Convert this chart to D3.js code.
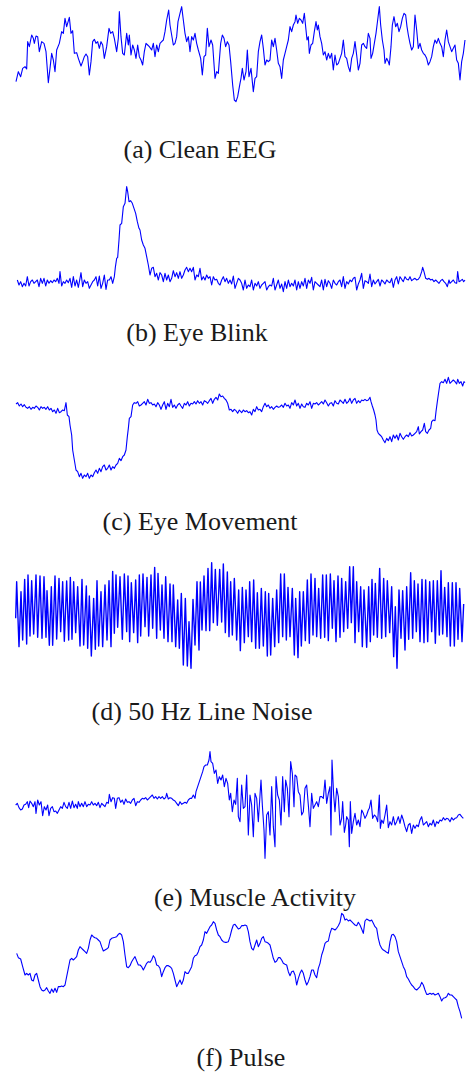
<!DOCTYPE html>
<html><head><meta charset="utf-8">
<script src="https://cdn.jsdelivr.net/npm/d3@7"></script>
<style>html,body{margin:0;padding:0;background:#fff}</style>
</head><body>
<script>
// Each series: [time (sample units), amplitude (arbitrary units, up = positive)]
const cleanEEG = [[18,-245],[25,-215],[32,-230],[38,-205],[45,-200],[50,-207],[53,-125],[58,-140],[65,-105],[70,-115],[73,-130],[78,-108],[83,-110],[88,-155],[95,-125],[102,-130],[108,-155],[115,-248],[120,-205],[125,-160],[130,-180],[135,-215],[140,-150],[148,-130],[155,-95],[160,-100],[165,-55],[170,-80],[178,-52],[183,-100],[188,-92],[193,-160],[200,-158],[205,-175],[213,-198],[218,-185],[223,-170],[228,-162],[233,-170],[238,-225],[243,-185],[248,-125],[253,-118],[258,-130],[263,-125],[268,-145],[273,-125],[278,-135],[283,-175],[290,-140],[297,-85],[302,-100],[308,-95],[313,-115],[320,-155],[325,-115],[328,-35],[333,-110],[338,-160],[343,-165],[350,-100],[355,-135],[358,-105],[363,-165],[368,-135],[373,-150],[378,-175],[383,-135],[388,-170],[393,-180],[398,-195],[403,-155],[408,-130],[413,-135],[418,-140],[425,-150],[430,-130],[435,-170],[440,-135],[445,-155],[450,-130],[455,-125],[460,-120],[465,-95],[470,-60],[476,-30],[480,-75],[485,-105],[490,-135],[495,-130],[500,-110],[504,-65],[510,-40],[515,-20],[520,-60],[525,-100],[530,-125],[535,-110],[540,-155],[545,-110],[550,-120],[555,-100],[560,-130],[565,-150],[572,-175],[577,-225],[582,-170],[587,-165],[592,-85],[597,-140],[603,-120],[608,-135],[615,-235],[620,-215],[625,-220],[632,-130],[637,-105],[642,-115],[647,-140],[652,-125],[657,-135],[662,-185],[668,-255],[673,-300],[678,-305],[683,-290],[690,-250],
[693,-235],[697,-205],[702,-240],[708,-215],[712,-150],[717,-230],[723,-205],[730,-275],[735,-235],[740,-230],[745,-155],[750,-125],[755,-105],[760,-145],[765,-195],[770,-180],[775,-185],[780,-180],[785,-120],[790,-140],[795,-115],[800,-150],[805,-190],[810,-200],[815,-235],[820,-180],[825,-160],[830,-140],[835,-120],[840,-80],[845,-95],[850,-75],[855,-65],[858,-45],[863,-70],[868,-55],[873,-60],[878,-70],[883,-40],[888,-90],[891,-120],[895,-110],[898,-160],[903,-135],[908,-130],[913,-95],[918,-65],[922,-90],[925,-75],[930,-110],[935,-130],[940,-165],[945,-155],[950,-180],[955,-160],[960,-175],[965,-160],[970,-210],[975,-165],[980,-195],[985,-190],[990,-175],[995,-160],[1000,-120],[1005,-170],[1010,-175],[1015,-200],[1020,-215],[1025,-175],[1030,-160],[1035,-125],[1040,-165],[1045,-210],[1050,-190],[1055,-135],[1060,-130],[1065,-140],[1070,-145],[1075,-100],[1080,-115],[1083,-175],[1088,-160],[1093,-130],[1098,-100],[1103,-60],[1108,-20],[1112,-75],[1117,-120],[1122,-150],[1125,-190],[1130,-175],[1135,-185],[1138,-195],[1143,-140],[1147,-75],[1152,-50],[1157,-80],[1162,-70],[1167,-95],[1172,-80],[1177,-55],[1182,-40],[1187,-45],[1191,-80],[1195,-105],[1200,-130],[1205,-150],[1210,-140],[1215,-45],[1220,-90],[1225,-145],[1230,-130],[1235,-150],[1240,-160],[1245,-165],[1250,-175],[1255,-195],[1260,-185],[1265,-170],[1270,-140],[1275,-120],[1280,-130],[1285,-115],[1290,-130],[1295,-140],[1300,-170],[1305,-120],[1310,-90],[1315,-125],[1320,-140],[1325,-155],[1330,-145],[1335,-135],[1340,-180],[1345,-190],[1350,-240],[1355,-185],[1360,-160],[1365,-120]];

const eyeBlink = [[22,-300],[27,-315],[32,-305],[37,-320],[42,-310],[47,-318],[52,-290],[57,-318],[62,-305],[67,-300],[72,-310],[77,-305],[82,-300],[87,-320],[92,-295],[97,-310],[102,-295],[107,-318],[112,-300],[117,-310],[122,-302],[127,-308],[132,-300],[137,-305],[142,-295],[147,-310],[150,-275],[155,-318],[160,-305],[165,-310],[170,-300],[175,-308],[180,-295],[185,-322],[190,-290],[195,-318],[200,-300],[205,-322],[210,-295],[213,-278],[218,-320],[223,-300],[228,-310],[233,-305],[238,-325],[243,-315],[248,-305],[253,-300],[258,-290],[263,-318],[268,-288],[273,-325],[278,-310],[283,-285],[288,-328],[293,-300],[298,-300],[303,-290],[308,-310],[313,-290],[316,-262],[320,-235],[323,-232],[327,-180],[330,-135],[335,-130],[340,-80],[345,-70],[350,-20],[353,-35],[357,-65],[362,-62],[367,-70],[372,-85],[377,-100],[382,-125],[387,-145],[390,-150],[395,-180],[400,-195],[405,-205],[410,-230],[415,-255],[420,-285],[425,-265],[430,-262],[435,-290],[440,-280],[445,-300],[450,-278],[455,-285],[460,-305],[465,-280],[470,-300],[475,-285],[480,-305],[485,-295],[490,-272],[495,-290],[500,-278],[505,-295],[510,-275],[515,-295],[520,-285],[525,-270],[530,-262],[535,-275],[540,-265],[545,-275],[550,-262],[555,-300],[560,-285],[565,-290],[570,-265],[575,-300],[580,-290],[585,-300],[590,-285],[595,-295],[600,-290],[605,-315],[610,-290],[615,-300],[620,-298],[625,-310],[630,-315],[635,-300],[640,-290],[645,-305],[650,-295],[655,-310],[660,-300],[665,-312],[670,-288],[675,-325],[680,-310],[685,-295],[690,-300],
[695,-310],[700,-330],[705,-300],[710,-325],[715,-315],[720,-320],[725,-300],[730,-330],[735,-310],[740,-318],[745,-305],[750,-325],[755,-315],[760,-310],[765,-305],[770,-330],[775,-320],[780,-315],[785,-318],[790,-295],[795,-330],[800,-315],[805,-300],[810,-325],[815,-312],[820,-335],[825,-305],[830,-325],[835,-300],[840,-320],[845,-310],[850,-318],[855,-300],[860,-330],[865,-305],[870,-325],[875,-305],[880,-318],[885,-295],[890,-325],[895,-300],[900,-310],[905,-292],[910,-330],[915,-305],[920,-310],[925,-315],[930,-320],[935,-300],[940,-330],[945,-298],[950,-320],[955,-302],[960,-310],[965,-325],[970,-300],[975,-310],[980,-315],[985,-305],[990,-300],[995,-320],[1000,-290],[1005,-325],[1010,-305],[1015,-312],[1020,-300],[1025,-305],[1030,-295],[1035,-292],[1040,-330],[1045,-312],[1050,-300],[1055,-280],[1060,-325],[1065,-302],[1070,-305],[1075,-310],[1080,-282],[1085,-320],[1090,-300],[1095,-312],[1100,-305],[1105,-298],[1110,-318],[1115,-300],[1120,-305],[1125,-312],[1130,-300],[1135,-305],[1140,-308],[1145,-295],[1150,-322],[1155,-300],[1160,-290],[1165,-312],[1170,-290],[1175,-298],[1180,-305],[1185,-290],[1190,-298],[1195,-300],[1200,-290],[1205,-302],[1210,-298],[1215,-295],[1220,-300],[1225,-298],[1230,-290],[1235,-275],[1238,-262],[1242,-275],[1247,-295],[1252,-298],[1257,-295],[1262,-300],[1267,-298],[1272,-305],[1277,-300],[1282,-305],[1287,-310],[1292,-302],[1297,-298],[1302,-305],[1307,-310],[1312,-320],[1317,-300],[1320,-310],[1325,-305],[1330,-300],[1335,-308],[1340,-310],[1343,-275],[1347,-305],[1352,-302],[1357,-298],[1361,-305],[1365,-300]];

const eyeMovement = [[18,-102],[23,-98],[28,-108],[33,-102],[38,-110],[43,-104],[48,-112],[53,-115],[58,-110],[63,-118],[68,-112],[73,-115],[78,-108],[83,-112],[88,-120],[93,-110],[98,-115],[103,-112],[108,-118],[113,-110],[118,-120],[123,-115],[128,-125],[133,-120],[138,-130],[143,-115],[148,-128],[153,-125],[158,-120],[163,-122],[168,-98],[172,-135],[177,-140],[180,-165],[185,-195],[188,-240],[193,-270],[198,-300],[203,-305],[208,-320],[213,-310],[218,-325],[223,-315],[228,-320],[233,-310],[238,-325],[243,-315],[248,-320],[253,-308],[258,-300],[263,-310],[268,-295],[273,-305],[278,-290],[283,-285],[288,-300],[293,-295],[298,-285],[303,-300],[308,-290],[313,-295],[318,-285],[323,-280],[328,-265],[333,-272],[338,-260],[343,-255],[348,-240],[352,-200],[355,-175],[358,-145],[363,-140],[368,-105],[373,-98],[378,-100],[383,-95],[388,-108],[393,-105],[398,-100],[403,-95],[408,-105],[413,-88],[418,-100],[423,-98],[428,-105],[433,-102],[438,-110],[443,-98],[448,-105],[453,-118],[458,-105],[463,-95],[468,-118],[473,-100],[478,-110],[483,-88],[488,-112],[493,-105],[498,-115],[503,-105],[508,-100],[513,-108],[518,-115],[523,-100],[528,-105],[533,-95],[538,-108],[543,-100],[548,-102],[553,-95],[558,-102],[563,-92],[568,-100],[573,-95],[578,-105],[583,-92],[588,-95],[593,-100],[598,-92],[603,-85],[608,-100],[613,-88],[618,-82],[623,-90],[628,-72],[633,-80],[638,-78],[643,-85],[648,-90],[653,-100],[658,-120],[663,-118],[668,-125],[673,-118],[678,-122],[683,-130],[688,-120],
[695,-128],[700,-120],[705,-125],[710,-122],[715,-128],[720,-125],[725,-135],[730,-118],[735,-125],[740,-110],[745,-120],[750,-118],[755,-125],[760,-110],[765,-100],[770,-110],[775,-105],[780,-115],[785,-110],[790,-118],[795,-112],[800,-108],[805,-112],[810,-110],[815,-105],[820,-112],[825,-100],[830,-108],[835,-105],[840,-115],[845,-98],[850,-105],[855,-90],[860,-108],[865,-100],[870,-115],[875,-102],[880,-110],[885,-112],[890,-100],[895,-105],[900,-95],[905,-115],[910,-100],[915,-102],[920,-98],[925,-105],[930,-100],[935,-95],[940,-102],[945,-90],[950,-98],[955,-108],[960,-100],[965,-98],[970,-108],[975,-92],[980,-100],[985,-102],[990,-90],[995,-95],[1000,-100],[1005,-88],[1010,-100],[1015,-95],[1020,-85],[1025,-100],[1030,-90],[1035,-85],[1040,-100],[1045,-92],[1050,-98],[1055,-90],[1060,-92],[1065,-88],[1070,-92],[1075,-90],[1080,-82],[1083,-95],[1087,-108],[1091,-120],[1095,-135],[1098,-150],[1101,-180],[1105,-190],[1110,-195],[1115,-200],[1120,-210],[1125,-218],[1130,-205],[1135,-212],[1140,-200],[1145,-215],[1150,-195],[1155,-205],[1160,-195],[1165,-210],[1170,-190],[1175,-200],[1180,-208],[1185,-200],[1190,-195],[1195,-200],[1200,-188],[1205,-198],[1210,-195],[1215,-190],[1220,-185],[1225,-170],[1228,-192],[1233,-185],[1238,-180],[1243,-160],[1247,-185],[1252,-190],[1257,-180],[1262,-175],[1265,-155],[1270,-150],[1275,-152],[1278,-125],[1282,-95],[1287,-60],[1290,-40],[1295,-35],[1300,-38],[1305,-28],[1310,-40],[1315,-22],[1320,-40],[1325,-35],[1330,-30],[1335,-35],[1340,-42],[1343,-28],[1348,-40],[1353,-35],[1358,-48],[1362,-35],[1365,-38]];

const lineNoise = [[17,-175],[20,-65],[27,-260],[33,-95],[38,-240],[44,-58],[50,-252],[54,-45],[60,-228],[65,-62],[71,-222],[78,-45],[83,-232],[90,-48],[96,-235],[102,-50],[108,-232],[111,-92],[118,-256],[124,-80],[128,-256],[135,-48],[140,-237],[147,-55],[152,-215],[158,-65],[163,-244],[170,-63],[176,-240],[181,-52],[186,-238],[191,-65],[197,-218],[203,-80],[210,-258],[216,-58],[221,-255],[229,-78],[233,-265],[238,-108],[244,-288],[251,-115],[256,-268],[261,-62],[266,-258],[273,-95],[278,-260],[285,-75],[291,-240],[297,-62],[303,-260],[308,-34],[313,-220],[318,-45],[323,-202],[330,-50],[337,-238],[343,-42],[350,-215],[354,-48],[359,-245],[364,-68],[371,-218],[377,-60],[383,-248],[388,-45],[392,-228],[399,-42],[405,-200],[411,-52],[416,-228],[423,-45],[428,-205],[434,-22],[440,-235],[444,-40],[451,-210],[456,-75],[462,-235],[467,-50],[474,-245],[480,-72],[486,-245],[490,-75],[497,-260],[503,-120],[508,-265],[514,-100],[520,-315],[526,-115],[532,-318],[537,-185],[543,-325],[549,-118],[555,-255],[561,-65],[567,-270],[571,-66],[576,-210],[582,-48],[588,-212],[594,-25],[599,-212],[605,-8],[610,-188],[616,-28],[622,-196],[629,-28],[635,-186],[640,-12],[646,-218],[652,-36],[657,-230],[662,-65],[667,-225],[673,-55],[680,-240],[686,-90],
[691,-272],[697,-82],[703,-248],[708,-90],[715,-230],[719,-65],[725,-245],[731,-60],[737,-265],[742,-98],[748,-265],[754,-85],[760,-258],[766,-95],[772,-288],[776,-100],[782,-285],[788,-115],[794,-260],[800,-90],[806,-248],[812,-42],[818,-230],[823,-42],[829,-240],[834,-82],[840,-230],[847,-85],[853,-285],[857,-115],[864,-293],[869,-95],[874,-258],[880,-95],[886,-242],[892,-60],[898,-250],[903,-42],[909,-225],[915,-55],[920,-230],[926,-85],[932,-235],[938,-45],[944,-232],[949,-45],[955,-242],[961,-42],[967,-205],[972,-62],[978,-245],[984,-48],[990,-232],[995,-55],[1001,-215],[1007,-65],[1013,-205],[1019,-20],[1024,-188],[1030,-20],[1035,-248],[1040,-65],[1046,-215],[1052,-80],[1057,-260],[1062,-90],[1070,-262],[1076,-80],[1081,-245],[1086,-58],[1091,-225],[1096,-70],[1102,-232],[1109,-25],[1115,-235],[1121,-55],[1127,-230],[1132,-62],[1139,-218],[1145,-80],[1151,-290],[1156,-140],[1161,-325],[1167,-90],[1173,-235],[1178,-92],[1185,-270],[1190,-80],[1196,-238],[1202,-38],[1208,-235],[1213,-62],[1219,-215],[1224,-72],[1230,-245],[1236,-58],[1242,-248],[1247,-60],[1253,-245],[1259,-65],[1265,-215],[1270,-62],[1276,-250],[1282,-62],[1288,-225],[1293,-32],[1298,-222],[1304,-82],[1311,-230],[1315,-68],[1321,-258],[1327,-68],[1333,-258],[1338,-68],[1344,-238],[1349,-85],[1356,-245],[1361,-132]];

const muscleActivity = [[17,-180],[22,-175],[27,-188],[32,-195],[37,-192],[42,-180],[47,-178],[52,-170],[56,-188],[60,-168],[65,-175],[70,-185],[75,-170],[78,-205],[83,-165],[88,-180],[93,-170],[98,-212],[103,-185],[108,-195],[113,-180],[117,-212],[122,-190],[127,-185],[132,-200],[137,-198],[142,-205],[147,-195],[152,-185],[157,-190],[162,-172],[167,-185],[172,-190],[177,-172],[182,-190],[187,-168],[192,-188],[197,-178],[202,-190],[205,-170],[210,-185],[215,-175],[220,-185],[225,-170],[230,-185],[235,-178],[240,-180],[245,-170],[250,-180],[255,-175],[260,-182],[265,-172],[270,-188],[275,-175],[280,-180],[285,-185],[290,-172],[295,-175],[298,-148],[303,-170],[308,-158],[313,-160],[317,-190],[322,-160],[327,-158],[332,-172],[337,-165],[342,-178],[347,-162],[352,-172],[357,-170],[362,-175],[367,-165],[372,-160],[377,-182],[382,-170],[387,-172],[392,-165],[397,-160],[402,-162],[407,-158],[412,-165],[417,-160],[422,-155],[427,-150],[432,-160],[437,-155],[442,-162],[447,-155],[452,-160],[457,-155],[462,-162],[467,-158],[470,-145],[475,-162],[480,-158],[485,-160],[490,-165],[495,-168],[500,-175],[505,-182],[510,-170],[515,-178],[520,-175],[525,-172],[530,-175],[535,-165],[540,-160],[545,-160],[550,-150],[555,-160],[558,-140],[563,-125],[568,-110],[573,-95],[578,-80],[582,-65],[587,-60],[592,-60],[597,-45],[600,-20],[603,-50],[608,-55],[613,-85],[618,-75],[623,-115],[628,-95],[633,-105],[638,-90],[643,-125],[648,-100],[653,-115],[658,-165],[662,-145],[667,-200],[672,-165],[677,-178],[682,-100],[685,-215],[690,-230],
[695,-120],[700,-190],[705,-185],[710,-90],[715,-270],[720,-150],[725,-180],[730,-275],[735,-145],[740,-160],[745,-230],[750,-150],[753,-105],[757,-180],[762,-255],[765,-340],[770,-210],[775,-200],[780,-270],[785,-125],[790,-245],[795,-305],[798,-95],[803,-150],[808,-165],[813,-240],[818,-95],[823,-200],[827,-105],[832,-130],[837,-215],[842,-50],[847,-85],[852,-185],[855,-90],[860,-95],[865,-140],[870,-150],[875,-210],[880,-200],[885,-130],[890,-120],[895,-180],[900,-245],[905,-145],[910,-190],[915,-180],[920,-170],[925,-185],[930,-155],[935,-155],[940,-160],[945,-105],[950,-175],[955,-145],[960,-125],[963,-270],[966,-45],[971,-150],[975,-200],[980,-130],[985,-155],[990,-240],[995,-220],[998,-170],[1003,-262],[1007,-240],[1010,-215],[1015,-225],[1018,-305],[1021,-170],[1025,-265],[1030,-230],[1035,-205],[1040,-240],[1045,-225],[1050,-245],[1055,-195],[1060,-205],[1065,-220],[1070,-210],[1075,-195],[1078,-190],[1083,-165],[1088,-220],[1093,-210],[1098,-215],[1103,-230],[1108,-150],[1111,-250],[1115,-225],[1120,-235],[1125,-210],[1130,-180],[1135,-248],[1140,-230],[1145,-240],[1150,-215],[1155,-240],[1160,-230],[1165,-215],[1170,-235],[1175,-210],[1180,-225],[1185,-245],[1190,-260],[1195,-240],[1200,-235],[1205,-265],[1210,-240],[1215,-250],[1220,-240],[1225,-245],[1230,-225],[1235,-215],[1240,-240],[1245,-235],[1250,-230],[1255,-245],[1260,-235],[1265,-240],[1270,-225],[1275,-245],[1280,-230],[1285,-235],[1290,-225],[1295,-228],[1300,-218],[1305,-225],[1310,-220],[1315,-222],[1320,-230],[1325,-218],[1330,-225],[1335,-220],[1340,-218],[1345,-210],[1350,-208],[1355,-215],[1360,-220]];

const pulse = [[20,-145],[25,-158],[32,-162],[38,-185],[45,-210],[50,-205],[55,-210],[60,-205],[65,-225],[70,-228],[75,-210],[80,-205],[85,-225],[90,-245],[95,-255],[100,-258],[105,-255],[110,-248],[115,-258],[120,-265],[125,-252],[130,-262],[135,-250],[140,-262],[145,-245],[150,-245],[155,-243],[160,-245],[165,-240],[170,-215],[175,-190],[180,-165],[185,-160],[190,-165],[195,-160],[200,-155],[205,-135],[210,-125],[215,-130],[220,-135],[225,-140],[230,-145],[235,-130],[240,-105],[245,-90],[250,-95],[255,-98],[260,-100],[265,-105],[270,-110],[275,-125],[280,-138],[285,-135],[290,-132],[295,-128],[300,-105],[305,-100],[310,-98],[315,-97],[320,-95],[325,-88],[330,-85],[335,-90],[340,-110],[345,-150],[350,-185],[355,-188],[360,-182],[365,-170],[370,-162],[375,-155],[380,-168],[385,-180],[390,-180],[395,-185],[400,-195],[405,-185],[410,-175],[415,-170],[420,-172],[425,-165],[430,-152],[435,-160],[440,-180],[445,-182],[450,-190],[455,-215],[460,-200],[465,-188],[470,-182],[475,-182],[480,-185],[485,-190],[490,-205],[495,-225],[500,-245],[505,-235],[510,-225],[515,-238],[520,-225],[525,-200],[530,-205],[535,-205],[540,-195],[545,-185],[550,-160],[555,-152],[560,-150],[565,-140],[570,-125],[575,-120],[580,-105],[585,-80],[590,-85],[595,-75],[600,-65],[605,-60],[610,-50],[615,-55],[620,-75],[625,-90],[630,-95],[635,-105],[640,-110],[645,-112],[650,-112],[655,-110],[660,-95],[665,-75],[670,-60],[675,-58],[680,-65],[685,-72],[690,-70],
[695,-62],[700,-62],[705,-60],[710,-62],[715,-80],[720,-110],[725,-130],[730,-135],[735,-120],[740,-105],[745,-125],[750,-115],[755,-100],[760,-95],[765,-110],[770,-112],[775,-115],[780,-120],[785,-140],[790,-160],[795,-172],[800,-168],[805,-158],[810,-158],[815,-165],[820,-175],[825,-178],[830,-180],[835,-200],[840,-212],[845,-200],[850,-198],[855,-210],[860,-240],[865,-220],[870,-205],[875,-195],[880,-205],[885,-225],[890,-240],[895,-230],[900,-215],[905,-195],[910,-195],[915,-210],[920,-218],[925,-190],[930,-175],[935,-150],[940,-135],[945,-115],[950,-110],[955,-108],[960,-85],[965,-70],[970,-72],[975,-75],[980,-70],[985,-62],[990,-52],[995,-25],[1000,-30],[1005,-45],[1010,-42],[1015,-48],[1020,-45],[1025,-50],[1030,-55],[1035,-60],[1040,-62],[1045,-52],[1050,-60],[1055,-72],[1060,-85],[1065,-48],[1070,-42],[1075,-45],[1080,-48],[1085,-45],[1090,-55],[1095,-65],[1100,-70],[1105,-100],[1110,-120],[1115,-130],[1120,-135],[1125,-138],[1130,-142],[1135,-145],[1140,-110],[1145,-90],[1150,-88],[1155,-95],[1160,-110],[1165,-140],[1170,-155],[1175,-170],[1180,-185],[1185,-195],[1190,-215],[1195,-222],[1200,-232],[1205,-240],[1210,-245],[1215,-252],[1220,-255],[1225,-250],[1230,-245],[1235,-232],[1240,-240],[1245,-255],[1250,-268],[1255,-268],[1260,-265],[1265,-268],[1270,-265],[1275,-270],[1280,-268],[1285,-265],[1290,-275],[1295,-288],[1300,-280],[1305,-278],[1310,-275],[1315,-265],[1320,-270],[1325,-270],[1330,-275],[1335,-280],[1340,-285],[1345,-305],[1350,-320],[1355,-340]];

const captions = ["(a) Clean EEG", "(b) Eye Blink", "(c) Eye Movement", "(d) 50 Hz Line Noise", "(e) Muscle Activity", "(f) Pulse"];
const seriesList = [cleanEEG, eyeBlink, eyeMovement, lineNoise, muscleActivity, pulse];

// layout (pixels)
const W = 466, H = 1075;
const panelTops = [0, 180, 370, 560, 745, 905];
const strokeW = [1.1, 1.1, 1.1, 1.4, 1.1, 1.1];
const captionX = [200, 197, 200, 202, 255, 241];
const captionY = [158, 341, 530, 720, 906, 1066];

const svg = d3.select("body").append("svg").attr("width", W).attr("height", H);
const x = d3.scaleLinear().domain([0, 1380]).range([10, 470]);

seriesList.forEach((data, i) => {
  const top = panelTops[i];
  const y = d3.scaleLinear().domain([-360, 0]).range([top + 120, top]);
  const line = d3.line().x(d => x(d[0])).y(d => y(d[1]));
  svg.append("path").datum(data)
    .attr("d", line)
    .attr("fill", "none")
    .attr("stroke", "#0000ff")
    .attr("stroke-width", strokeW[i])
    .attr("stroke-linejoin", "round");
  svg.append("text")
    .attr("x", captionX[i]).attr("y", captionY[i])
    .attr("text-anchor", "middle")
    .attr("font-family", "'Liberation Serif', 'Times New Roman', serif")
    .attr("font-size", 26)
    .attr("fill", "#1a1a1a")
    .text(captions[i]);
});
</script>
</body></html>
